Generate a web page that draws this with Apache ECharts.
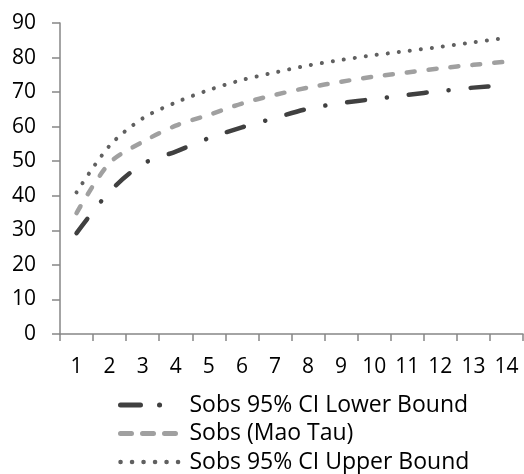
<!DOCTYPE html>
<html>
<head>
<meta charset="utf-8">
<script src="https://cdn.jsdelivr.net/npm/echarts@6/dist/echarts.min.js"></script>
<style>html,body{margin:0;padding:0;background:#fff}#c{width:524px;height:474px}</style>
</head>
<body>
<div id="c"></div>
<script>
var categories = ['1','2','3','4','5','6','7','8','9','10','11','12','13','14'];
var lowerBound = [29.2, 41.2, 49.2, 52.8, 56.7, 59.8, 62.5, 65.2, 66.8, 68.0, 69.2, 70.3, 71.3, 72.0];
var maoTau = [35.0, 49.5, 55.6, 60.3, 63.4, 66.7, 69.2, 71.3, 73.0, 74.5, 75.7, 76.9, 77.9, 78.8];
var upperBound = [41.0, 54.5, 62.4, 67.0, 70.6, 73.5, 75.7, 77.7, 79.3, 80.7, 81.9, 83.1, 84.4, 85.7];
var seriesNames = ['Sobs 95% CI Lower Bound', 'Sobs (Mao Tau)', 'Sobs 95% CI Upper Bound'];

var chart = echarts.init(document.getElementById('c'), null, {renderer: 'canvas'});
var font = '"Open Sans", sans-serif';
chart.setOption({
  animation: false,
  grid: {left: 60, right: 1, top: 23, bottom: 140, containLabel: false},
  xAxis: {
    type: 'category', data: categories, boundaryGap: true,
    axisLine: {lineStyle: {color: '#868686', width: 1.5}},
    axisTick: {show: true, length: 7, alignWithLabel: false, lineStyle: {color: '#868686', width: 1.5}},
    axisLabel: {color: '#000', fontSize: 21, fontFamily: font, margin: 23, interval: 0}
  },
  yAxis: {
    type: 'value', min: 0, max: 90, interval: 10,
    axisLine: {show: true, lineStyle: {color: '#868686', width: 1.5}},
    axisTick: {show: true, length: 8, lineStyle: {color: '#868686', width: 1.5}},
    splitLine: {show: false},
    axisLabel: {color: '#000', fontSize: 21, fontFamily: font, margin: 24}
  },
  legend: {
    orient: 'vertical', left: 118, top: 393, width: 400, height: 120, padding: 0,
    itemWidth: 64, itemHeight: 14, itemGap: 4.5,
    itemStyle: {opacity: 0},
    textStyle: {color: '#000', fontSize: 23, lineHeight: 24, fontFamily: font, padding: [0,0,0,0]},
    data: [
      {name: seriesNames[0], lineStyle: {color: '#404040', width: 5, type: [20, 19, 0.1, 40], cap: 'round'}},
      {name: seriesNames[1], lineStyle: {color: '#a0a0a0', width: 5, type: [11, 11], cap: 'round'}},
      {name: seriesNames[2], lineStyle: {color: '#606060', width: 4.5, type: [0.1, 11.4], cap: 'round'}}
    ]
  },
  series: [
    {name: seriesNames[0], type: 'line', data: lowerBound, smooth: 0.3, symbol: 'none', showSymbol: false,
     lineStyle: {color: '#404040', width: 4.5, type: [18, 22, 0.1, 22], cap: 'round'}, itemStyle: {color: '#404040'}},
    {name: seriesNames[1], type: 'line', data: maoTau, smooth: 0.3, symbol: 'none', showSymbol: false,
     lineStyle: {color: '#a0a0a0', width: 4.5, type: [8, 14], cap: 'round'}, itemStyle: {color: '#a0a0a0'}},
    {name: seriesNames[2], type: 'line', data: upperBound, smooth: 0.3, symbol: 'none', showSymbol: false,
     lineStyle: {color: '#606060', width: 4, type: [0.1, 11], cap: 'round'}, itemStyle: {color: '#606060'}}
  ]
});
</script>
</body>
</html>
